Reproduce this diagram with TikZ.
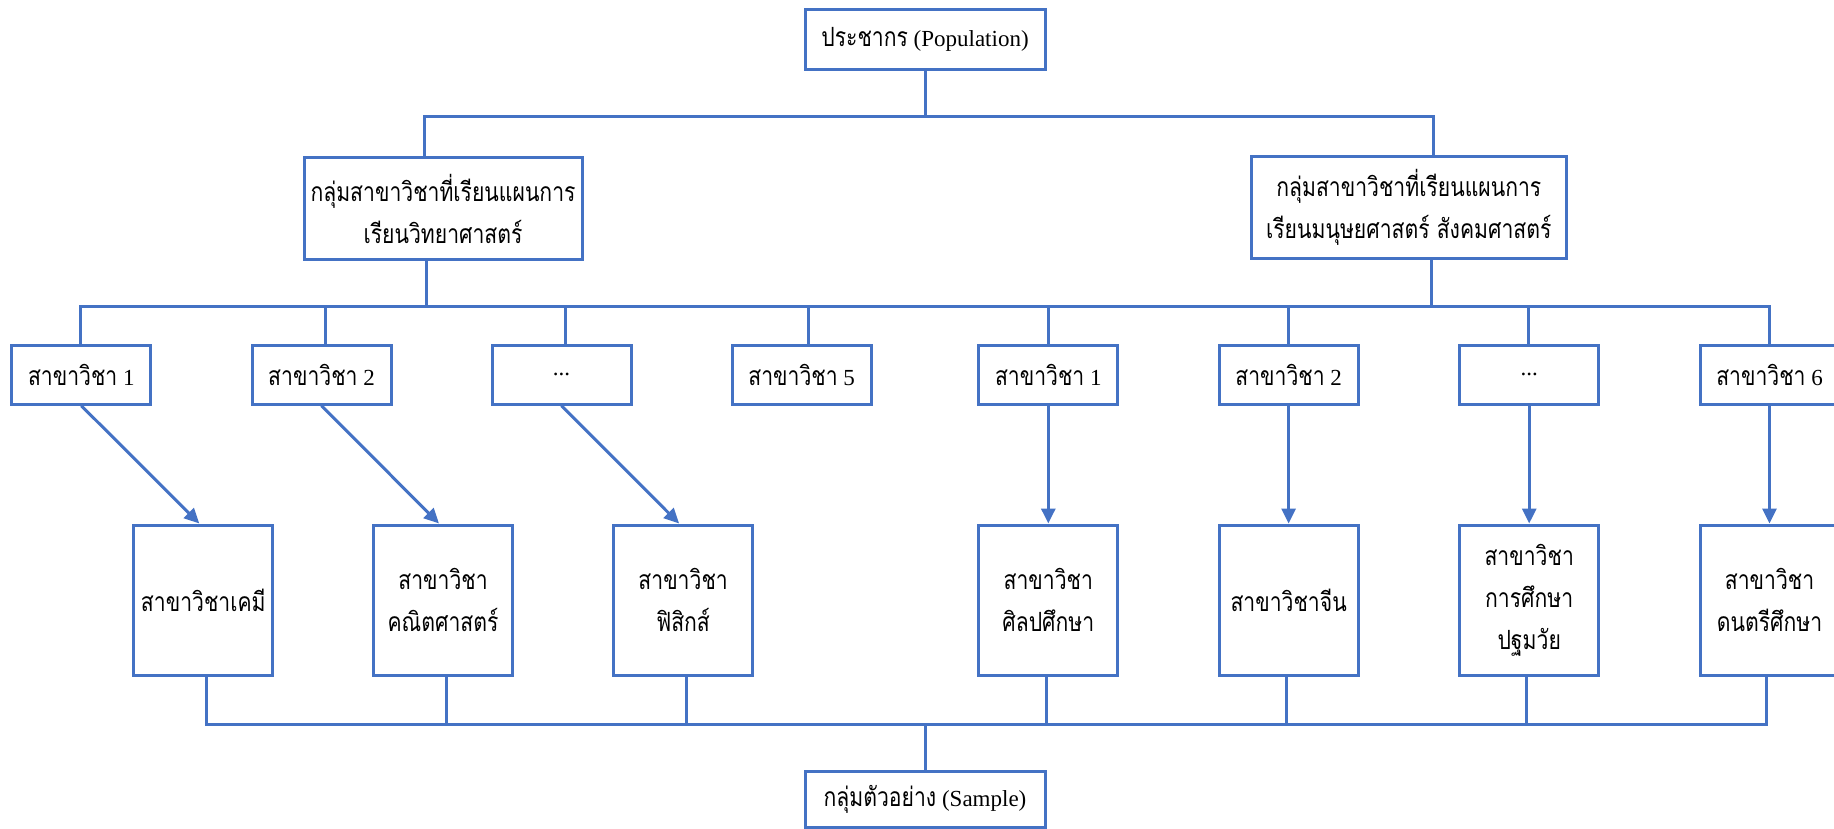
\documentclass[tikz,border=0pt]{standalone}
\usepackage{fontspec}
\setmainfont{Liberation Serif}
\newfontfamily\thai[Script=Thai,Scale=1.15,FakeStretch=0.8]{Loma}
\usetikzlibrary{arrows.meta}
\definecolor{ob}{HTML}{4472C4}
\begin{document}
\begin{tikzpicture}[x=1pt,y=-1pt,
  bx/.style={draw=ob,line width=3pt,inner sep=0pt,align=center,
    font=\fontsize{23}{42}\selectfont},
  rowbox/.style={bx,minimum width=139pt,minimum height=59pt},
  botbox/.style={bx,minimum width=139pt,minimum height=150pt},
  ln/.style={draw=ob,line width=3pt},
  arr/.style={ln,-{Triangle[length=15pt,width=14pt]}}
]
\useasboundingbox (0,0) rectangle (1834,829);
% top
\node[bx,minimum width=240pt,minimum height=60pt] (pop) at (925,39.3) {{\thai ประชากร} (Population)};
\node[bx,minimum width=278pt,minimum height=102pt] (gL) at (443,208.8) {{\thai กลุ่มสาขาวิชาที่เรียนแผนการ}\\{\thai เรียนวิทยาศาสตร์}};
\node[bx,minimum width=315pt,minimum height=102pt] (gR) at (1408.8,207.5) {{\thai กลุ่มสาขาวิชาที่เรียนแผนการ}\\{\thai เรียนมนุษยศาสตร์ สังคมศาสตร์}};
% row boxes
\node[rowbox] (r1) at (81.3,374.7) {{\thai สาขาวิชา} 1};
\node[rowbox] (r2) at (321.5,374.7) {{\thai สาขาวิชา} 2};
\node[rowbox] (r3) at (561.5,374.7) {...};
\node[rowbox] (r4) at (801.6,374.7) {{\thai สาขาวิชา} 5};
\node[rowbox] (r5) at (1048.3,374.7) {{\thai สาขาวิชา} 1};
\node[rowbox] (r6) at (1288.6,374.7) {{\thai สาขาวิชา} 2};
\node[rowbox] (r7) at (1529.2,374.7) {...};
\node[rowbox] (r8) at (1769.5,374.7) {{\thai สาขาวิชา} 6};
% bottom boxes
\node[botbox] (bA) at (203.3,600) {{\thai สาขาวิชาเคมี}};
\node[botbox] (bB) at (443,600) {{\thai สาขาวิชา}\\{\thai คณิตศาสตร์}};
\node[botbox] (bC) at (683.1,600) {{\thai สาขาวิชา}\\{\thai ฟิสิกส์}};
\node[botbox] (bD) at (1048.3,600) {{\thai สาขาวิชา}\\{\thai ศิลปศึกษา}};
\node[botbox] (bE) at (1288.6,600) {{\thai สาขาวิชาจีน}};
\node[botbox] (bF) at (1529.2,600) {{\thai สาขาวิชา}\\{\thai การศึกษา}\\{\thai ปฐมวัย}};
\node[botbox] (bG) at (1769.5,600) {{\thai สาขาวิชา}\\{\thai ดนตรีศึกษา}};
% sample
\node[bx,minimum width=240pt,minimum height=56pt] (smp) at (925,799) {{\thai กลุ่มตัวอย่าง} (Sample)};
% level 1 connectors
\coordinate (h1L) at (424,116.7);
\coordinate (h1R) at (1433,116.7);
\draw[ln] (pop.south) -- (pop.south |- h1L);
\draw[ln] (gL.north -| h1L) -- (h1L) -- (h1R) -- (gR.north -| h1R);
% level 2 connectors
\coordinate (h2L) at (80,306);
\coordinate (h2R) at (1769.5,306);
\coordinate (gLd) at (426,306);
\coordinate (gRd) at (1431.6,306);
\draw[ln] (gL.south -| gLd) -- (gLd);
\draw[ln] (gR.south -| gRd) -- (gRd);
\draw[ln] (r1.north -| h2L) -- (h2L) -- (h2R) -- (r8.north -| h2R);
\foreach \n/\x in {r2/325,r3/565.7,r4/808.6,r5/1048.4,r6/1288.4,r7/1528.4}{
  \coordinate (d\n) at (\x,306);
  \draw[ln] (d\n) -- (\n.north -| d\n);
}
% arrows
\draw[arr] (r1.south) -- ([xshift=-4pt]bA.north);
\draw[arr] (r2.south) -- ([xshift=-4pt]bB.north);
\draw[arr] (r3.south) -- ([xshift=-4pt]bC.north);
\draw[arr] (r5.south) -- (bD.north);
\draw[arr] (r6.south) -- (bE.north);
\draw[arr] (r7.south) -- (bF.north);
\draw[arr] (r8.south) -- (bG.north);
% level 3 connectors
\coordinate (h3L) at (206,724);
\coordinate (h3R) at (1766,724);
\draw[ln] (bA.south -| h3L) -- (h3L) -- (h3R) -- (bG.south -| h3R);
\foreach \n/\x in {bB/446.6,bC/686,bD/1046,bE/1286,bF/1526}{
  \coordinate (u\n) at (\x,724);
  \draw[ln] (\n.south -| u\n) -- (u\n);
}
\coordinate (h3M) at (925.7,724);
\draw[ln] (h3M) -- (smp.north -| h3M);
\end{tikzpicture}
\end{document}
